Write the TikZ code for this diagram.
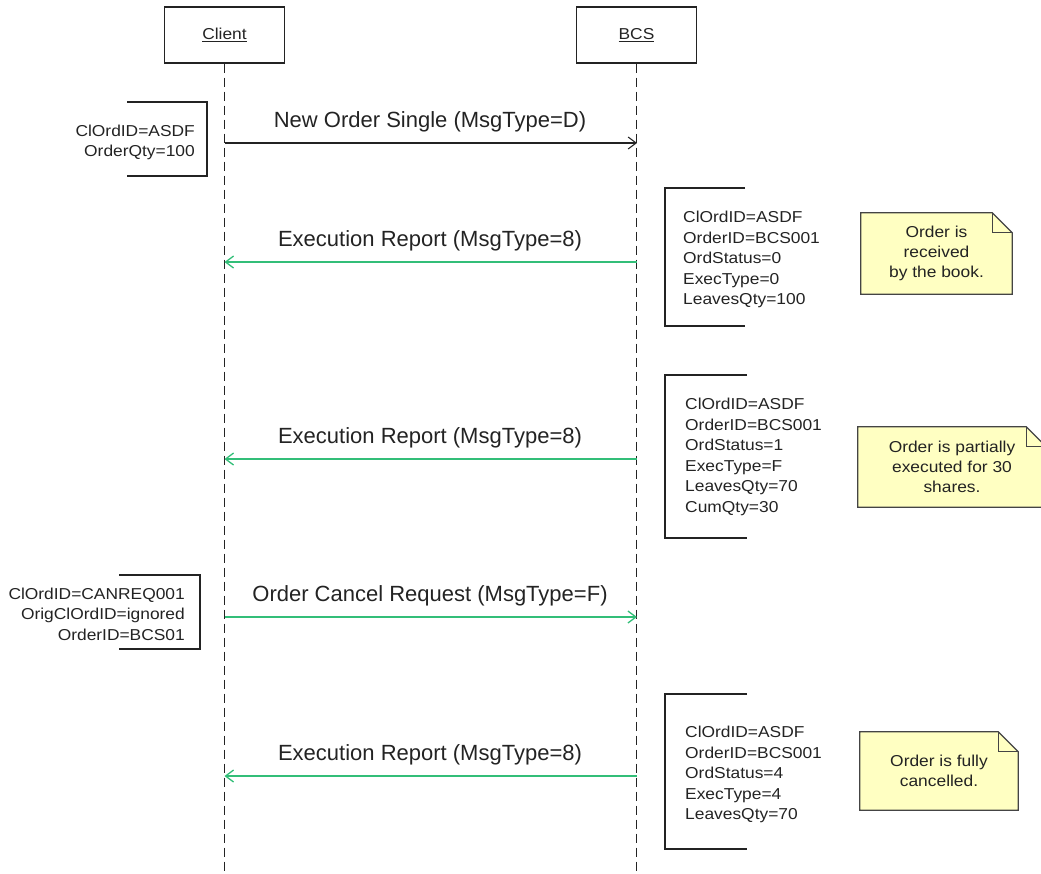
\documentclass[tikz,border=0pt]{standalone}
\usepackage{fontspec}
\setmainfont{Liberation Sans}
\newfontfamily\narrowsans{Liberation Sans}[FakeStretch=1.1]
\usetikzlibrary{arrows.meta,backgrounds}

\definecolor{msggreen}{RGB}{50,190,120}
\definecolor{notefill}{RGB}{255,255,194}
\definecolor{ink}{RGB}{35,35,35}

\tikzset{
  every node/.style={text=ink, inner sep=0pt},
  headbox/.style={draw=ink, line width=1.4pt, minimum width=120pt, minimum height=56pt,
    font=\narrowsans\fontsize{15.8}{19}\selectfont},
  lifeline/.style={draw=ink, line width=1.2pt, dash pattern=on 9pt off 5pt},
  callarrow/.style={draw=ink, line width=1.1pt, -{Straight Barb[length=8pt,width=12pt]}},
  replyarrow/.style={draw=msggreen, line width=1.3pt, -{Straight Barb[length=8pt,width=12pt]}},
  msglabel/.style={font=\fontsize{22}{26}\selectfont, anchor=base},
  fields/.style={font=\narrowsans\fontsize{15.8}{20.5}\selectfont},
  bracketline/.style={draw=ink, line width=2.2pt},
  notebody/.style={font=\narrowsans\fontsize{15.8}{19.8}\selectfont, align=center},
  noteline/.style={draw=ink!85, line width=1.2pt, line join=miter},
}

% note card with a folded top-right corner, drawn behind its text node
\newcommand\notecard[1]{%
  \begin{scope}[on background layer]
    \filldraw[noteline, fill=notefill] (#1.north west) -- ([xshift=-20pt]#1.north east)
      -- ([yshift=-20pt]#1.north east) -- (#1.south east) -- (#1.south west) -- cycle;
    \draw[noteline] ([xshift=-20pt]#1.north east) |- ([yshift=-20pt]#1.north east);
  \end{scope}}

\begin{document}
\begin{tikzpicture}[x=1pt, y=-1pt]
  \useasboundingbox (0,0) rectangle (1041,873);
  \clip (0,0) rectangle (1041,873);

  % participants and lifelines
  \node[headbox] (client) at (224.5,35) {\underline{Client}};
  \node[headbox] (bcs) at (636.5,35) {\underline{BCS}};
  \coordinate (clientend) at (224.5,880);
  \coordinate (bcsend) at (636.5,880);
  \draw[lifeline] (client.south) -- (clientend);
  \draw[lifeline] (bcs.south) -- (bcsend);

  % message end points on the lifelines
  \coordinate (c1) at (224.5,143); \coordinate (b1) at (637,143);
  \coordinate (c2) at (224.5,262); \coordinate (b2) at (636.5,262);
  \coordinate (c3) at (224.5,459); \coordinate (b3) at (636.5,459);
  \coordinate (c4) at (224.5,617); \coordinate (b4) at (637,617);
  \coordinate (c5) at (224.5,776); \coordinate (b5) at (636.5,776);

  % messages
  \draw[callarrow] (c1) -- (b1);
  \node[msglabel] (m1) at (430,127) {New Order Single (MsgType=D)};
  \draw[replyarrow] (b2) -- (c2);
  \node[msglabel] (m2) at (430,246) {Execution Report (MsgType=8)};
  \draw[replyarrow] (b3) -- (c3);
  \node[msglabel] (m3) at (430,443) {Execution Report (MsgType=8)};
  \draw[replyarrow] (c4) -- (b4);
  \node[msglabel] (m4) at (430,601) {Order Cancel Request (MsgType=F)};
  \draw[replyarrow] (b5) -- (c5);
  \node[msglabel] (m5) at (430,760) {Execution Report (MsgType=8)};

  % field lists with their brackets
  \node[fields, align=right, anchor=east] (f1) at (195,142.5) {ClOrdID=ASDF\\OrderQty=100};
  \draw[bracketline] (127,102) -| (207,176) -- (127,176);

  \node[fields, align=left, anchor=west] (f2) at (683,259.5)
    {ClOrdID=ASDF\\OrderID=BCS001\\OrdStatus=0\\ExecType=0\\LeavesQty=100};
  \draw[bracketline] (745,188) -| (665,326) -- (745,326);

  \node[fields, align=left, anchor=west] (f3) at (685,457)
    {ClOrdID=ASDF\\OrderID=BCS001\\OrdStatus=1\\ExecType=F\\LeavesQty=70\\CumQty=30};
  \draw[bracketline] (747,375) -| (665,538) -- (747,538);

  \node[fields, align=right, anchor=east] (f4) at (185,614)
    {ClOrdID=CANREQ001\\OrigClOrdID=ignored\\OrderID=BCS01};
  \draw[bracketline] (119,575) -| (200,649) -- (119,649);

  \node[fields, align=left, anchor=west] (f5) at (685,774.5)
    {ClOrdID=ASDF\\OrderID=BCS001\\OrdStatus=4\\ExecType=4\\LeavesQty=70};
  \draw[bracketline] (747,694) -| (665,849) -- (747,849);

  % notes
  \node[notebody, minimum width=151pt, minimum height=81pt] (n1) at (936.5,253.5)
    {Order is\\received\\by the book.};
  \notecard{n1}
  \node[notebody, minimum width=188pt, minimum height=80pt] (n2) at (952,467)
    {Order is partially\\executed for 30\\shares.};
  \notecard{n2}
  \node[notebody, minimum width=158pt, minimum height=78pt] (n3) at (939,771)
    {Order is fully\\cancelled.};
  \notecard{n3}
\end{tikzpicture}
\end{document}
